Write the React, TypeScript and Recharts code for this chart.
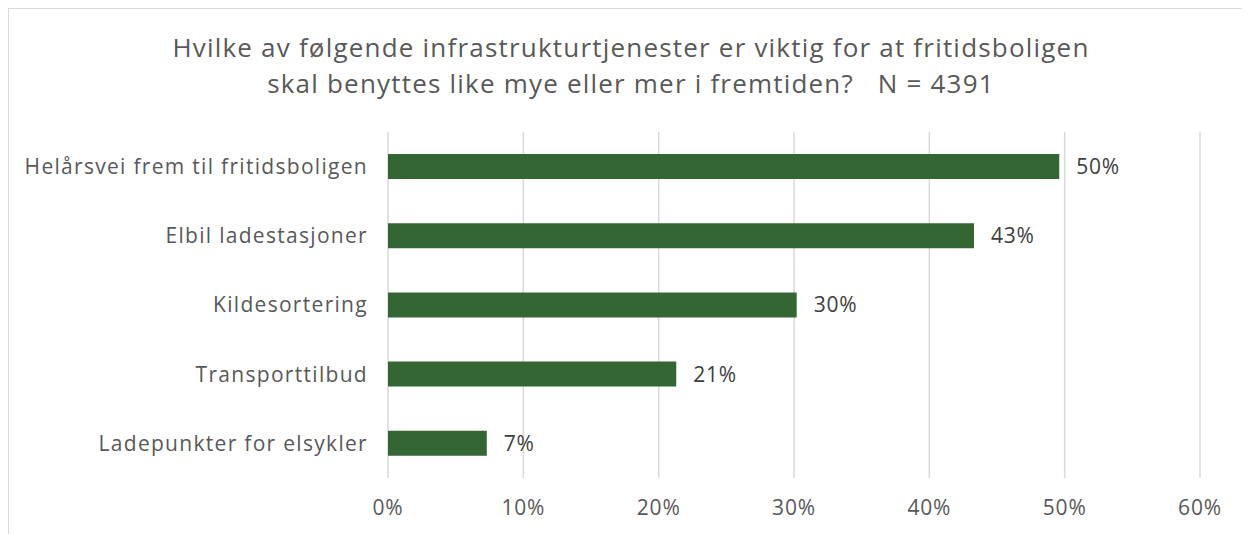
import React from "react";
import { Bar, BarChart, CartesianGrid, LabelList, XAxis, YAxis } from "recharts";

const categories = [
  "Helårsvei frem til fritidsboligen",
  "Elbil ladestasjoner",
  "Kildesortering",
  "Transporttilbud",
  "Ladepunkter for elsykler",
];
const shares = [49.6, 43.3, 30.2, 21.3, 7.3];
const xTicks = [0, 10, 20, 30, 40, 50, 60];

const title = [
  "Hvilke av følgende infrastrukturtjenester er viktig for at fritidsboligen",
  "skal benyttes like mye eller mer i fremtiden?   N = 4391",
];

const data = categories.map((name, i) => ({ name, value: shares[i] }));

const FONT = "'Open Sans', sans-serif";

export default function App() {
  return (
    <div
      style={{
        position: "relative",
        width: 1244,
        height: 540,
        border: "1px solid #d9d9d9",
        fontFamily: FONT,
        background: "#fff",
      }}
    >
      <div
        style={{
          position: "absolute",
          top: 20,
          left: 0,
          width: "100%",
          textAlign: "center",
          color: "#595959",
          fontSize: 26,
          letterSpacing: 1.2,
          lineHeight: "36px",
          whiteSpace: "pre",
        }}
      >
        {title.map((t) => (
          <div key={t}>{t}</div>
        ))}
      </div>
      <BarChart
        width={1242}
        height={530}
        data={data}
        layout="vertical"
        barSize={25}
        margin={{ top: 123, right: 51, left: 0, bottom: 31 }}
      >
        <CartesianGrid horizontal={false} stroke="#d9d9d9" strokeWidth={1.5} />
        <XAxis
          type="number"
          domain={[0, 60]}
          ticks={xTicks}
          tickFormatter={(v) => `${v}%`}
          axisLine={false}
          tickLine={false}
          tickSize={0}
          tickMargin={22}
          height={30}
          tick={{ fill: "#595959", fontSize: 21, fontFamily: FONT, letterSpacing: 0.8 }}
        />
        <YAxis
          type="category"
          dataKey="name"
          width={379}
          axisLine={false}
          tickLine={false}
          tickSize={0}
          tickMargin={20}
          tick={{ fill: "#595959", fontSize: 21, fontFamily: FONT, letterSpacing: 1.3 }}
        />
        <Bar dataKey="value" fill="#346634" isAnimationActive={false}>
          <LabelList
            dataKey="value"
            position="right"
            offset={17}
            formatter={(v: number) => `${Math.round(v)}%`}
            style={{ fill: "#404040", fontSize: 21, fontFamily: FONT, letterSpacing: 0.8 }}
          />
        </Bar>
      </BarChart>
    </div>
  );
}
